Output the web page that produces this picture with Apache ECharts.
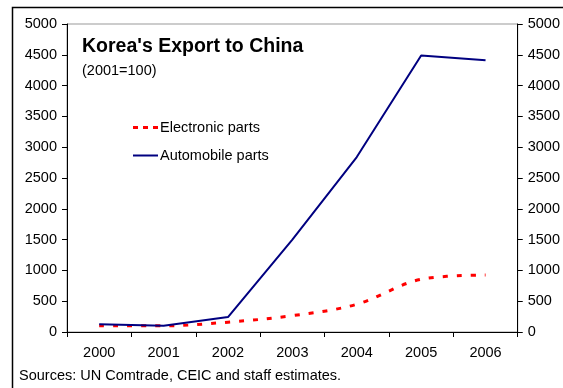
<!DOCTYPE html>
<html>
<head>
<meta charset="utf-8">
<script src="https://cdn.jsdelivr.net/npm/echarts@6/dist/echarts.min.js"></script>
<style>
  html, body { margin: 0; padding: 0; background: #fff; }
  #chart { width: 563px; height: 388px; }
</style>
</head>
<body>
<div id="chart"></div>
<script>
// Index of Korean exports to China (2001 = 100)
const years = ['2000', '2001', '2002', '2003', '2004', '2005', '2006'];
const electronicParts = [103, 100, 160, 265, 450, 855, 925];
const automobileParts = [125, 100, 243, 1500, 2840, 4490, 4410];
const yTicks = { min: 0, max: 5000, interval: 500 };

const chart = echarts.init(document.getElementById('chart'), null, { renderer: 'canvas' });
const FONT = 'Liberation Sans, Arial, sans-serif';
const FS = 14.5;

const valueAxis = (position) => ({
  type: 'value',
  position: position,
  min: yTicks.min,
  max: yTicks.max,
  interval: yTicks.interval,
  axisLine: { show: true, lineStyle: { color: '#000', width: 1 } },
  axisTick: { show: true, inside: false, length: 5, lineStyle: { color: '#000' } },
  axisLabel: {
    color: '#000', fontFamily: FONT, fontSize: FS, margin: 10,
    formatter: (v) => String(v)
  },
  splitLine: { show: false }
});

chart.setOption({
  animation: false,
  backgroundColor: '#fff',
  grid: {
    left: 67, right: 39, top: 24, bottom: 56,
    show: true, borderColor: '#999', borderWidth: 1, backgroundColor: 'transparent'
  },
  title: [
    {
      text: "Korea's Export to China",
      left: 82, top: 37, padding: 0,
      textStyle: { fontFamily: FONT, fontSize: 19.5, fontWeight: 'bold', color: '#000' }
    },
    {
      text: '(2001=100)',
      left: 82, top: 63, padding: 0,
      textStyle: { fontFamily: FONT, fontSize: FS, fontWeight: 'normal', color: '#000' }
    },
    {
      text: 'Sources: UN Comtrade, CEIC and staff estimates.',
      left: 19, top: 368, padding: 0,
      textStyle: { fontFamily: FONT, fontSize: FS, fontWeight: 'normal', color: '#000' }
    }
  ],
  legend: {
    orient: 'vertical',
    left: 133, top: 120, padding: 0,
    itemWidth: 25, itemHeight: 12, itemGap: 13,
    textStyle: { fontFamily: FONT, fontSize: FS, color: '#000', padding: [0, 0, 0, -3] },
    data: [
      { name: 'Electronic parts', icon: 'path://M0,4h5v3H0z M10,4h5v3h-5z M20,4h5v3h-5z' },
      { name: 'Automobile parts', icon: 'path://M0,4h25v2H0z' }
    ]
  },
  xAxis: {
    type: 'category',
    data: years,
    boundaryGap: true,
    axisLine: { lineStyle: { color: '#000', width: 1 } },
    axisTick: { show: true, length: 5, alignWithLabel: false, lineStyle: { color: '#000' } },
    axisLabel: { color: '#000', fontFamily: FONT, fontSize: FS, margin: 13 }
  },
  yAxis: [valueAxis('left'), valueAxis('right')],
  series: [
    {
      name: 'Electronic parts',
      type: 'line',
      data: electronicParts,
      smooth: 0.35,
      symbol: 'none',
      itemStyle: { color: '#ff0000' },
      lineStyle: { color: '#ff0000', width: 3, type: [5, 9] },
      z: 3
    },
    {
      name: 'Automobile parts',
      type: 'line',
      data: automobileParts,
      symbol: 'none',
      itemStyle: { color: '#000080' },
      lineStyle: { color: '#000080', width: 2 },
      z: 4
    }
  ],
  graphic: [
    {
      type: 'rect',
      shape: { x: 12.5, y: 7.5, width: 600, height: 420 },
      style: { fill: 'transparent', stroke: '#000', lineWidth: 1.5 },
      silent: true
    }
  ]
});
</script>
</body>
</html>
